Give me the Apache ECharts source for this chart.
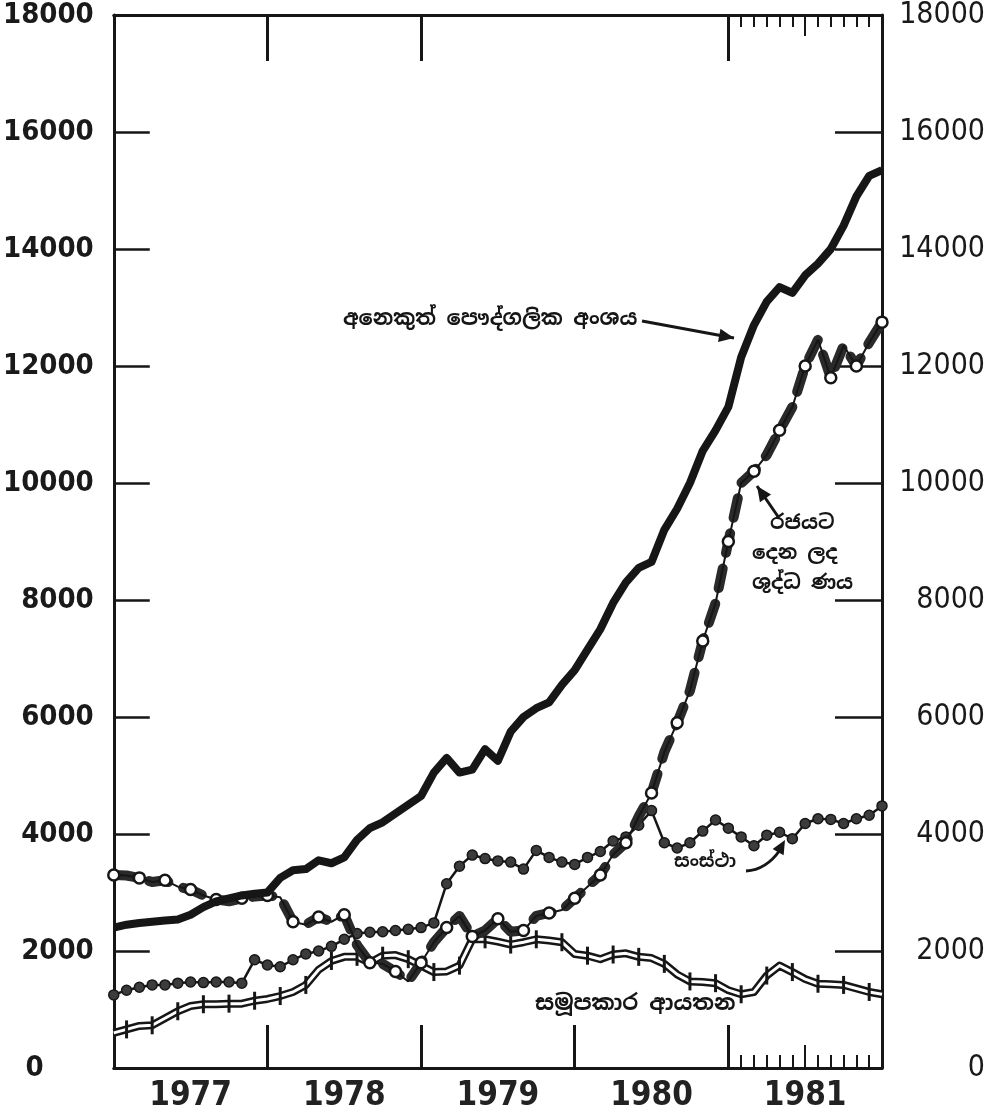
<!DOCTYPE html>
<html lang="si">
<head>
<meta charset="UTF-8">
<title>Chart</title>
<script src="https://cdn.jsdelivr.net/npm/echarts@6/dist/echarts.min.js"></script>
<style>
  html, body { margin: 0; padding: 0; background: #fff; }
  #chart { width: 991px; height: 1116px; }
</style>
</head>
<body>
<div id="chart"></div>
<script>
// months from Dec 1976 (0) to Dec 1981 (60), values in Rs. million
var yearLabels = ['1977', '1978', '1979', '1980', '1981'];
var yearMid = [6, 18, 30, 42, 54];
var yearTicksBottom = [12, 24, 36, 48];
var yearTicksTop = [12, 24, 48];
var monthTicks1981 = [49, 50, 51, 52, 53, 55, 56, 57, 58, 59];
var midTick1981 = [54];

var privateSector = [2400,2450,2480,2500,2520,2540,2620,2750,2850,2900,2950,2980,3000,3250,3380,3400,3550,3500,3600,3900,
  4100,4200,4350,4500,4650,5050,5300,5050,5100,5450,5250,5750,6000,6150,6250,6550,6800,7150,7500,7950,
  8300,8550,8650,9200,9560,10000,10550,10900,11300,12150,12700,13100,13350,13250,13550,13750,14000,14400,14900,15250,15350];
var govCredit = [3300,3290,3250,3180,3210,3100,3050,2950,2880,2850,2900,2930,2950,2920,2500,2450,2580,2500,2620,2100,
  1800,1780,1650,1480,1800,2150,2400,2600,2250,2350,2550,2330,2350,2600,2650,2700,2900,3100,3300,3650,
  3850,4300,4700,5400,5900,6450,7300,7950,9000,10000,10200,10480,10900,11300,12000,12450,11800,12350,12000,12400,12750];
var corporations = [1250,1330,1380,1420,1420,1450,1470,1460,1470,1470,1450,1850,1760,1730,1850,1950,2000,2080,2200,2300,
  2320,2330,2350,2370,2400,2480,3150,3450,3640,3580,3540,3520,3400,3720,3600,3520,3480,3600,3700,3880,
  3950,4150,4400,3850,3760,3850,4050,4240,4100,3950,3800,3980,4030,3920,4180,4260,4250,4180,4260,4320,4480];
var cooperatives = [600,660,720,730,850,970,1060,1090,1090,1100,1100,1150,1180,1230,1300,1420,1680,1830,1900,1900,
  1800,1920,1930,1860,1750,1640,1650,1750,2200,2200,2160,2110,2150,2200,2180,2150,1950,1920,1860,1940,
  1960,1900,1880,1780,1600,1480,1470,1450,1330,1260,1300,1580,1750,1640,1520,1440,1430,1420,1360,1300,1260];

var labelPrivate = 'අනෙකුත් පෞද්ගලික අංශය';
var labelGov = ['රජයට', 'දෙන ලද', 'ශුද්ධ ණය'];
var labelCorp = 'සංස්ථා';
var labelCoop = 'සමූපකාර ආයතන';

var ink = '#161616';
var sinhalaFont = "'Noto Sans Sinhala', 'Iskoola Pota', 'Noto Sans', sans-serif";

function pairs(arr) {
  return arr.map(function (v, i) { return [i, v]; });
}

// marks only on every other month, like the hand drawn chart
function pairsEvery(arr, start, sym) {
  return arr.map(function (v, i) {
    return { value: [i, v], symbol: (i % 2 === start) ? sym : 'none' };
  });
}

function arrowHead(x1, y1, x2, y2, size) {
  var a = Math.atan2(y2 - y1, x2 - x1);
  var w = size * 0.45;
  var bx = x2 - size * Math.cos(a), by = y2 - size * Math.sin(a);
  return [[x2, y2],
    [bx + w * Math.sin(a), by - w * Math.cos(a)],
    [bx - w * Math.sin(a), by + w * Math.cos(a)]];
}

function arrow(x1, y1, x2, y2) {
  return [
    { type: 'line', shape: { x1: x1, y1: y1, x2: x2, y2: y2 }, style: { stroke: ink, lineWidth: 3 } },
    { type: 'polygon', shape: { points: arrowHead(x1, y1, x2, y2, 15) }, style: { fill: ink } }
  ];
}

var chart = echarts.init(document.getElementById('chart'));

var baseX = { type: 'value', min: 0, max: 60, splitLine: { show: false } };
function tickAxis(pos, values, len, width, showLine) {
  return Object.assign({}, baseX, {
    position: pos,
    axisLine: { show: !!showLine, onZero: false, lineStyle: { color: ink, width: 3 } },
    axisTick: { show: true, inside: true, length: len, customValues: values, lineStyle: { color: ink, width: width } },
    axisLabel: { show: false }
  });
}

var xAxes = [
  Object.assign({}, baseX, {
    position: 'bottom',
    axisLine: { show: true, onZero: false, lineStyle: { color: ink, width: 3 } },
    axisTick: { show: true, inside: true, length: 43, customValues: yearTicksBottom, lineStyle: { color: ink, width: 3 } },
    axisLabel: {
      customValues: yearMid,
      formatter: function (v) { return yearLabels[yearMid.indexOf(v)]; },
      fontFamily: "'Liberation Sans Narrow', 'DejaVu Sans Condensed', sans-serif",
      fontWeight: 'bold', fontSize: 33, color: '#222', margin: 12
    }
  }),
  tickAxis('bottom', monthTicks1981, 13, 2),
  tickAxis('bottom', midTick1981, 23, 2),
  tickAxis('top', yearTicksTop, 46, 3, true),
  tickAxis('top', monthTicks1981, 12, 2),
  tickAxis('top', midTick1981, 21, 2)
];

var baseY = {
  type: 'value', min: 0, max: 18000, interval: 2000,
  splitLine: { show: false },
  axisLine: { show: true, onZero: false, lineStyle: { color: ink, width: 3 } }
};

var option = {
  backgroundColor: '#fff',
  animation: false,
  grid: { left: 112, right: 109, top: 11, bottom: 48, containLabel: false },
  xAxis: xAxes,
  yAxis: [
    Object.assign({}, baseY, {
      position: 'left',
      axisTick: { show: true, inside: true, length: 36, lineStyle: { color: ink, width: 2.5 } },
      axisLabel: {
        margin: 20, color: '#1a1a1a', fontSize: 29, fontWeight: 'bold',
        fontFamily: "'DejaVu Sans Condensed', 'DejaVu Sans', sans-serif",
        formatter: function (v) { return v === 0 ? '{z|0}' : String(v); },
        rich: { z: { fontSize: 29, fontWeight: 'bold', fontFamily: "'DejaVu Sans Condensed', sans-serif", padding: [0, 50, 0, 0] } }
      }
    }),
    Object.assign({}, baseY, {
      position: 'right',
      axisTick: { show: true, inside: true, length: 47, lineStyle: { color: ink, width: 2.5 } },
      axisLabel: {
        margin: 103, align: 'right', color: '#1a1a1a', fontSize: 30,
        fontFamily: "'DejaVu Sans Condensed', 'DejaVu Sans', sans-serif",
        formatter: function (v) { return String(v); }
      }
    })
  ],
  series: [
    // co-operatives: double line with cross ticks
    { name: 'coopOuter', type: 'line', data: pairs(cooperatives), showSymbol: false, silent: true,
      lineStyle: { color: ink, width: 8, join: 'round' }, z: 2 },
    { name: 'coopInner', type: 'line', data: pairsEvery(cooperatives, 1, 'rect'), symbolSize: [3, 18],
      showAllSymbol: true, itemStyle: { color: ink }, lineStyle: { color: '#fff', width: 3, join: 'round' }, z: 3 },
    // corporations: thin line with dots
    { name: 'corp', type: 'line', data: pairs(corporations), symbol: 'circle', symbolSize: 10,
      itemStyle: { color: '#3c3c3c', borderColor: ink, borderWidth: 1.5 },
      lineStyle: { color: ink, width: 2.5 }, z: 4 },
    // net credit to government: chain of thick links and open rings
    { name: 'govLinks', type: 'line', data: pairs(govCredit), showSymbol: false, silent: true,
      lineStyle: { color: '#2a2a2a', width: 10, type: [20, 16], cap: 'round', join: 'round' }, z: 5 },
    { name: 'govRings', type: 'line', data: pairsEvery(govCredit, 0, 'circle'), symbolSize: 11,
      itemStyle: { color: '#fff', borderColor: ink, borderWidth: 2.5 },
      lineStyle: { color: ink, width: 2 }, z: 6 },
    // other private sector: heavy solid line
    { name: 'private', type: 'line', data: pairs(privateSector), showSymbol: false,
      lineStyle: { color: ink, width: 8, join: 'round' }, z: 7 }
  ],
  graphic: [
    { type: 'text', left: 343, top: 309, style: { text: labelPrivate, font: 'bold 21px ' + sinhalaFont, fill: ink } },
    { type: 'text', left: 770, top: 513, style: { text: labelGov[0], font: 'bold 20px ' + sinhalaFont, fill: ink } },
    { type: 'text', left: 752, top: 543, style: { text: labelGov[1], font: 'bold 20px ' + sinhalaFont, fill: ink } },
    { type: 'text', left: 752, top: 573, style: { text: labelGov[2], font: 'bold 20px ' + sinhalaFont, fill: ink } },
    { type: 'text', left: 674, top: 853, style: { text: labelCorp, font: 'bold 18px ' + sinhalaFont, fill: ink } },
    { type: 'text', left: 535, top: 993, style: { text: labelCoop, font: 'bold 22px ' + sinhalaFont, fill: ink } },
    { type: 'bezierCurve', shape: { x1: 746, y1: 871, cpx1: 766, cpy1: 870, x2: 780, y2: 850 },
      style: { stroke: ink, lineWidth: 3, fill: null } },
    { type: 'polygon', shape: { points: arrowHead(776, 856, 785, 840, 14) }, style: { fill: ink } }
  ].concat(arrow(642, 321, 734, 338), arrow(779, 518, 757, 486))
};

chart.setOption(option);
</script>
</body>
</html>
